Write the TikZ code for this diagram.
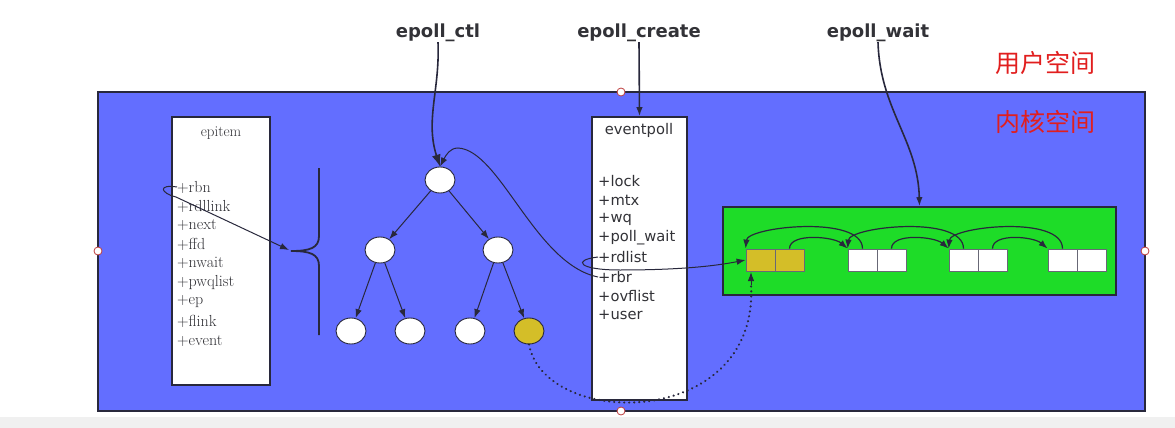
\documentclass[tikz,border=0pt]{standalone}
\usepackage{fontspec}
\newfontfamily\dvs{DejaVu Sans}
\newfontfamily\dvsb{DejaVu Sans Bold}
\newfontfamily\cjk{Noto Sans CJK SC}
\usetikzlibrary{shapes.geometric,arrows.meta}
\definecolor{kblue}{RGB}{99,110,255}
\definecolor{kgreen}{RGB}{30,220,40}
\definecolor{kyellow}{RGB}{212,190,40}
\definecolor{lc}{RGB}{40,40,60}
\definecolor{tc}{RGB}{50,50,55}
\definecolor{kred}{RGB}{225,30,30}
\definecolor{bgray}{RGB}{240,240,240}
\definecolor{hred}{RGB}{190,60,60}
\begin{document}
\begin{tikzpicture}[x=1pt,y=-1pt,
  ln/.style={draw=lc, line width=1pt},
  tip/.style={-{Latex[length=9pt,width=6.5pt]}},
  bigtip/.style={-{Latex[length=12pt,width=9pt]}},
  structbox/.style={draw=lc, line width=1.6pt, fill=white, inner sep=0},
  sfield/.style={anchor=west, inner sep=0, text=tc, font=\fontsize{16}{16}\selectfont},
  efield/.style={anchor=west, inner sep=0, text=tc, font=\dvs\fontsize{14.7}{14.7}\selectfont},
  tnode/.style={ellipse, draw=lc, line width=0.9pt, fill=white, minimum width=30pt, minimum height=26pt, inner sep=0},
  cell/.style={draw=lc!70, line width=0.8pt, minimum width=29pt, minimum height=22pt, inner sep=0},
  apilabel/.style={inner sep=0, text=tc, font=\dvsb\fontsize{18}{18}\selectfont},
  zone/.style={inner sep=0, text=kred, font=\cjk\fontsize{25}{25}\selectfont},
  handle/.style={circle, draw=hred, fill=white, line width=0.8pt, minimum size=8pt, inner sep=0}
]
\useasboundingbox (0,0) rectangle (1175,428);
\fill[bgray] (0,417) rectangle (1175,428);

% kernel area
\node[draw=lc, line width=1.6pt, fill=kblue, minimum width=1047pt, minimum height=319pt, inner sep=0] (kernel) at (621.5,251.5) {};

% zone labels
\node[zone] (user) at (1045,63) {用户空间};
\node[zone] (kern) at (1045,122) {内核空间};

% API labels
\node[apilabel] (ctl) at (438,33) {epoll\_ctl};
\node[apilabel] (create) at (639,33) {epoll\_create};
\node[apilabel] (wait) at (878,33) {epoll\_wait};

% epitem
\node[structbox, minimum width=98pt, minimum height=268pt] (epitem) at (221,251) {};
\node[inner sep=0, text=tc, font=\fontsize{15}{15}\selectfont] (epitemt) at (221,133) {epitem};
\node[sfield] (rbn) at (177,187) {+rbn};
\node[sfield] (rdllink) at (177,206) {+rdllink};
\node[sfield] (next) at (177,225) {+next};
\node[sfield] (ffd) at (177,244) {+ffd};
\node[sfield] (nwait) at (177,263) {+nwait};
\node[sfield] (pwqlist) at (177,283) {+pwqlist};
\node[sfield] (ep) at (177,302) {+ep};
\node[sfield] (flink) at (177,321) {+flink};
\node[sfield] (event) at (177,341) {+event};

% brace
\draw[draw=lc, line width=1.8pt] (319,168) -- (319,236) .. controls (319,248) and (310,251) .. (291,251)
  .. controls (310,251) and (319,254) .. (319,266) -- (319,335);
\coordinate (bracetip) at (289,250);

% eventpoll
\node[structbox, minimum width=95pt, minimum height=283pt] (evp) at (639.5,258.5) {};
\node[inner sep=0, text=tc, font=\dvs\fontsize{14.7}{14.7}\selectfont] (evpt) at (639,130) {eventpoll};
\node[efield] (lock) at (598,181) {+lock};
\node[efield] (mtx) at (598,200) {+mtx};
\node[efield] (wq) at (598,219) {+wq};
\node[efield] (pollwait) at (598,238) {+poll\_wait};
\node[efield] (rdlist) at (598,257) {+rdlist};
\node[efield] (rbr) at (598,277) {+rbr};
\node[efield] (ovflist) at (598,296) {+ovflist};
\node[efield] (userf) at (598,315) {+user};

% tree
\node[tnode] (root) at (440,180) {};
\node[tnode] (l) at (380,250) {};
\node[tnode] (r) at (498,250) {};
\node[tnode] (ll) at (351,331) {};
\node[tnode] (lr) at (410,331) {};
\node[tnode] (rl) at (470,331) {};
\node[tnode, fill=kyellow] (rr) at (529,331) {};
\foreach \a/\b in {root/l, root/r, l/ll, l/lr, r/rl, r/rr}
  \draw[ln, tip] (\a) -- (\b);

% ready list
\node[draw=lc, line width=1.6pt, fill=kgreen, minimum width=393pt, minimum height=88pt, inner sep=0] (rdl) at (919.5,251) {};
\node[cell, fill=kyellow] (a1) at (760.5,260) {};
\node[cell, fill=kyellow] (a2) at (789.5,260) {};
\node[cell, fill=white] (b1) at (862.5,260) {};
\node[cell, fill=white] (b2) at (891.5,260) {};
\node[cell, fill=white] (c1) at (963.5,260) {};
\node[cell, fill=white] (c2) at (992.5,260) {};
\node[cell, fill=white] (d1) at (1062.5,260) {};
\node[cell, fill=white] (d2) at (1091.5,260) {};

% forward arcs
\foreach \s/\t in {a2/b1, b2/c1, c2/d1}
  \draw[ln, line width=1.2pt, tip] (\s.north) .. controls +(0,-16) and +(-14,-12) .. (\t.north west);
% back arcs
\foreach \s/\t in {b1/a1, c1/b1, d1/c1}
  \draw[ln, line width=1.2pt, tip] (\s.north) .. controls +(0,-34) and +(2,-22) .. (\t.north west);

% API arrows
\draw[ln, line width=1.6pt, bigtip] (ctl.south) .. controls (440,90) and (425,120) .. (root.north);
\draw[ln, line width=1.6pt, tip] (create.south) -- (evp.north);
\draw[ln, line width=1.6pt, tip] (wait.south) .. controls (880,110) and (918,140) .. (rdl.north);

% rbn -> brace
\draw[ln, tip] (rbn.west) .. controls (158,184) and (160,193) .. (176,197) -- (bracetip);

% rbr -> root
\draw[ln, tip] (rbr.west) .. controls (535,264) and (500,150) .. (458,148) .. controls (450,148) and (446,155) .. (root.north);

% rdlist -> ready list head
\draw[ln, tip] (rdlist.west) .. controls (572,260) and (578,270) .. (620,270) .. controls (680,270) and (715,266) .. (a1.west);

% dotted: yellow tree node -> list head
\coordinate (a1b) at (751,272);
\draw[draw=lc, line width=2.4pt, dash pattern=on 0.01pt off 5pt, line cap=round] (rr.south) .. controls (545,430) and (760,430) .. (751,284);
\draw[ln, tip] (751,285) -- (a1b);

% selection handles
\node[handle] (h1) at (621,92) {};
\node[handle] (h2) at (98,251) {};
\node[handle] (h3) at (1145,251) {};
\node[handle] (h4) at (621,411) {};
\end{tikzpicture}
\end{document}
